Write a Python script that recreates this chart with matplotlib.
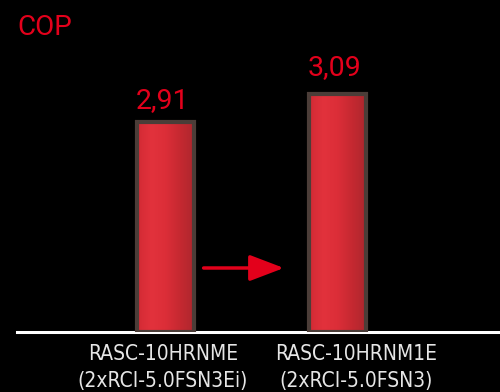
import matplotlib
matplotlib.use("Agg")
import matplotlib.pyplot as plt
import numpy as np
from matplotlib.colors import LinearSegmentedColormap

categories = [["RASC-10HRNME", "(2xRCI-5.0FSN3Ei)"], ["RASC-10HRNM1E", "(2xRCI-5.0FSN3)"]]
values = [2.91, 3.09]
value_labels = ["2,91", "3,09"]
title = "COP"

W, H = 500, 392
fig = plt.figure(figsize=(W / 100, H / 100), dpi=100, facecolor="black")
ax = fig.add_axes([17 / W, (H - 331.5) / H, (W - 17) / W, 331.5 / H])
ax.set_facecolor("black")

ymin, ymax = 1.564, 3.694
ax.set_ylim(ymin, ymax)
ax.set_xlim(-0.866, 1.950)

red = "#e3001b"
cmap = LinearSegmentedColormap.from_list(
    "barg", ["#d22a34", "#e2323c", "#dc2e38", "#c62931", "#ae272e"])
grad = np.linspace(0, 1, 256).reshape(1, -1)

x = np.arange(len(values))
bw = 0.332
bars = ax.bar(x, np.array(values) - ymin, bottom=ymin, width=bw,
              color="none", edgecolor="#4b3d38", linewidth=3.0, zorder=3)
for b in bars:
    x0, y0 = b.get_x(), b.get_y()
    im = ax.imshow(grad, cmap=cmap, aspect="auto",
                   extent=(x0, x0 + b.get_width(), y0, y0 + b.get_height()),
                   zorder=2)
    im.set_clip_path(b)

label_gap = [14, 19]
for xi, v, lab, g in zip(x, values, value_labels, label_gap):
    ax.annotate(lab, (xi, v), xytext=(-3, g), textcoords="offset pixels",
                ha="center", va="baseline", color=red, fontsize=20.5,
                family=["Roboto", "DejaVu Sans"])

# arrow between bars
ax.annotate("", xy=(0.69, 1.972), xytext=(0.222, 1.972),
            arrowprops=dict(arrowstyle="-|>,head_length=2.1,head_width=0.8",
                            lw=2.5, color=red, shrinkA=0, shrinkB=0))

for s in ["left", "right", "top"]:
    ax.spines[s].set_visible(False)
ax.spines["bottom"].set_color("white")
ax.spines["bottom"].set_linewidth(2.2)
ax.set_yticks([])
ax.set_xticks([])

# category labels under the axis
label_pos = [163, 356]
line_baselines = [360, 387]
for px, cat in zip(label_pos, categories):
    for line, by in zip(cat, line_baselines):
        fig.text(px / W, 1 - by / H, line, ha="center", va="baseline",
                 color="#e6e6e6", fontsize=15, fontstretch="condensed",
                 family=["DejaVu Sans"])

fig.text(17 / W, 1 - 35 / H, title, ha="left", va="baseline", color=red,
         fontsize=20, family=["Roboto", "DejaVu Sans"])

fig.savefig("out.png", dpi=100, facecolor="black")
